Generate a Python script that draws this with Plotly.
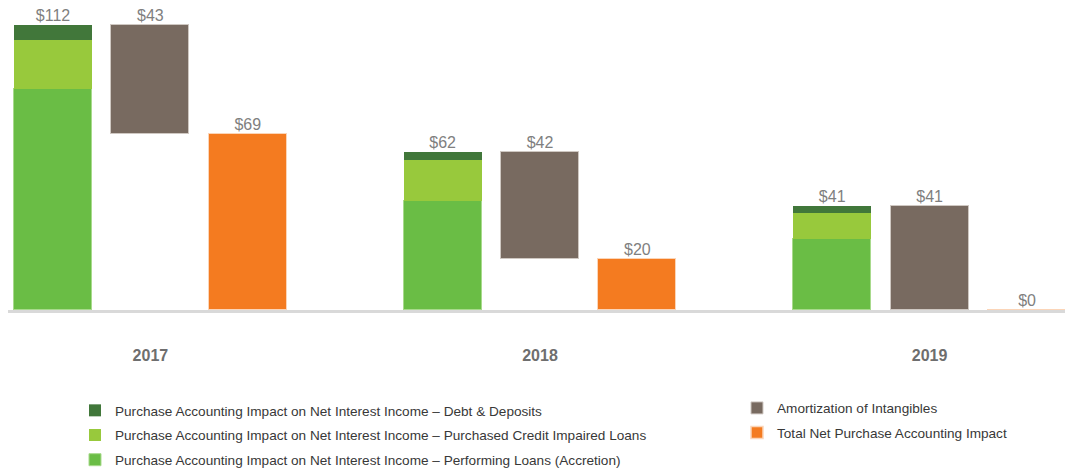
import plotly.graph_objects as go

years = ["2017", "2018", "2019"]
performing_loans = [87, 43, 28]
pci_loans = [19, 16, 10]
debt_deposits = [6, 3, 3]
amortization = [43, 42, 41]
total_net = [69, 20, 0]
stack_totals = [112, 62, 41]

green_x = [0, 4, 8]
gray_x = [1, 5, 9]
orange_x = [2, 6, 10]

C_DEBT = "#41773A"
C_PCI = "#98C93C"
C_PERF = "#6ABD45"
C_GRAY = "#786A60"
C_ORANGE = "#F47B20"

fig = go.Figure()
bw = 0.8

fig.add_trace(go.Bar(x=green_x, y=performing_loans, width=bw, marker=dict(color=C_PERF, line=dict(color="#A8DA8C", width=1)),
                     name="Purchase Accounting Impact on Net Interest Income – Performing Loans (Accretion)",
                     legend="legend", legendgroup="a", legendrank=3, hoverinfo="skip"))
fig.add_trace(go.Bar(x=green_x, y=pci_loans, width=bw, marker=dict(color=C_PCI, line=dict(width=0)),
                     name="Purchase Accounting Impact on Net Interest Income – Purchased Credit Impaired Loans",
                     legend="legend", legendgroup="b", legendrank=2, hoverinfo="skip"))
fig.add_trace(go.Bar(x=green_x, y=debt_deposits, width=bw, marker=dict(color=C_DEBT, line=dict(width=0)),
                     name="Purchase Accounting Impact on Net Interest Income – Debt & Deposits",
                     legend="legend", legendgroup="c", legendrank=1, hoverinfo="skip"))
fig.add_trace(go.Bar(x=gray_x, y=amortization, base=total_net, width=bw,
                     marker=dict(color=C_GRAY, line=dict(color="#CFC8C2", width=1)),
                     name="Amortization of Intangibles", legend="legend2", legendgroup="d", legendrank=1, hoverinfo="skip"))
fig.add_trace(go.Bar(x=orange_x, y=total_net, width=bw,
                     marker=dict(color=C_ORANGE, line=dict(color="#FBD5B8", width=1.5)),
                     name="Total Net Purchase Accounting Impact", legend="legend2", legendgroup="e", legendrank=2, hoverinfo="skip"))

label_x = green_x + gray_x + orange_x
label_y = stack_totals + [t + a for t, a in zip(total_net, amortization)] + total_net
label_vals = stack_totals + amortization + total_net
fig.add_trace(go.Scatter(x=label_x, y=label_y, mode="text",
                         text=[f"${v}" for v in label_vals], textposition="top center",
                         textfont=dict(family="Liberation Sans, Arial", size=16, color="#7F7F7F"),
                         showlegend=False, hoverinfo="skip", cliponaxis=False))

fig.update_layout(
    width=1065, height=460,
    margin=dict(l=0, r=0, t=2, b=158, autoexpand=False),
    paper_bgcolor="white", plot_bgcolor="white",
    barmode="stack", bargap=0,
    font=dict(family="Liberation Sans, Arial", size=13.6, color="#383838"),
    xaxis=dict(range=[-0.462, 10.472], tickvals=gray_x, ticktext=[f"<b>{y}</b>" for y in years],
               tickfont=dict(family="Liberation Sans Narrow, Liberation Sans, Arial", size=16, color="#6E6E6E"),
               showline=True, linecolor="#D9D9D9", linewidth=3, showgrid=False, zeroline=False,
               ticks="", ticklabelstandoff=29, fixedrange=True, automargin=False),
    yaxis=dict(range=[0, 117.9], visible=False, fixedrange=True),
    legend=dict(x=0.0629, y=0.1587, xref="container", yref="container", xanchor="left", yanchor="top",
                traceorder="grouped", tracegroupgap=4, font=dict(size=13.6, color="#383838"),
                bgcolor="rgba(0,0,0,0)"),
    legend2=dict(x=0.6845, y=0.164, xref="container", yref="container", xanchor="left", yanchor="top",
                 traceorder="grouped", tracegroupgap=4, font=dict(size=13.6, color="#383838"),
                 bgcolor="rgba(0,0,0,0)"),
    showlegend=True,
)

fig.write_html("out.html")
